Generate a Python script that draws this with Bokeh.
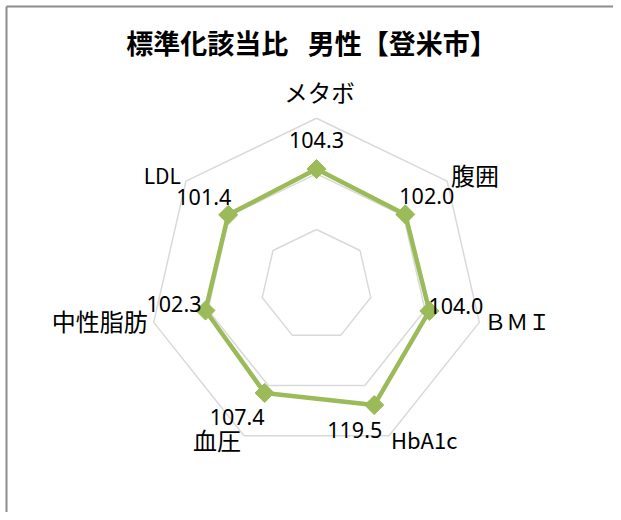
import math
from bokeh.plotting import figure
from bokeh.models import ColumnDataSource, Range1d, Label
from bokeh.core.properties import value
from bokeh.embed import file_html
from bokeh.resources import INLINE

# ---- data ----
title_text = "標準化該当比\u00a0\u2002男性【登米市】"
categories = ["メタボ", "腹囲", "ＢＭＩ", "HbA1c", "血圧", "中性脂肪", "LDL"]
values = [104.3, 102.0, 104.0, 119.5, 107.4, 102.3, 101.4]
value_labels = ["104.3", "102.0", "104.0", "119.5", "107.4", "102.3", "101.4"]
grid_levels = [50, 100, 150]
axis_max = 150

# ---- layout / style ----
W, H = 613, 512
CX, CY = 316.0, 284.7          # centre of the radar in canvas pixels
K = 167.0 / axis_max           # pixels per unit
GREEN = "#9BBB59"
GRID = "#D9D9D9"

n = len(categories)
ang = [2 * math.pi * i / n for i in range(n)]

def polar(r, a):
    return r * math.sin(a), r * math.cos(a)

x0, x1 = -CX / K, (W - CX) / K
y1, y0 = CY / K, -(H - CY) / K

p = figure(width=W, height=H, x_range=Range1d(x0, x1), y_range=Range1d(y0, y1),
           output_backend="svg", toolbar_location=None, min_border=0,
           x_axis_location=None, y_axis_location=None,
           background_fill_color="white", border_fill_color="white")
p.outline_line_color = None
p.xgrid.visible = False
p.ygrid.visible = False

# chart-area border (top and left visible)
bx = x0 + 6.0 / K
by = y1 - 6.0 / K
p.line([bx, bx], [y0, by], line_color="#8C8C8C", line_width=2)
p.line([bx, x1], [by, by], line_color="#8C8C8C", line_width=2)

# grid heptagons
for lv in grid_levels:
    xs, ys = [], []
    for a in ang + [ang[0]]:
        x, y = polar(lv, a)
        xs.append(x); ys.append(y)
    p.line(xs, ys, line_color=GRID, line_width=1.5)

# series
px, py = [], []
for v, a in zip(values, ang):
    x, y = polar(v, a)
    px.append(x); py.append(y)
p.line(px + [px[0]], py + [py[0]], line_color=GREEN, line_width=4.5, line_join="round")
p.scatter(px, py, marker="square", angle=math.pi / 4, size=13.5,
          fill_color=GREEN, line_color=GREEN)

# value labels
val_align = ["center", "left", "left", "right", "right", "right", "right"]
val_dx = [0, -6, -1, 8, 0, -4, 3]
val_dy = [-28.6, -18, -4.5, 25, 23.6, -7, -18]
vsrc = ColumnDataSource(dict(x=px, y=py, t=value_labels, al=val_align, dx=val_dx, dy=val_dy))
p.text(x="x", y="y", text="t", source=vsrc, text_align="al", x_offset="dx", y_offset="dy",
       text_baseline="alphabetic", text_font=value("Noto Sans"), text_font_size="21.5px",
       text_color="#000000")

# category labels
cx, cy = [], []
for a in ang:
    x, y = polar(axis_max, a)
    cx.append(x); cy.append(y)
cat_align = ["center", "left", "left", "left", "right", "right", "right"]
cat_dx = [3, 4, 5, 2, -3, -6, -5]
cat_dy = [-26, -7, -2, 3.5, 4, -2, -6]
cat_fs = ["23.5px", "24px", "22px", "22px", "24px", "24px", "21px"]
csrc = ColumnDataSource(dict(x=cx, y=cy, t=categories, al=cat_align, dx=cat_dx, dy=cat_dy, fs=cat_fs))
p.text(x="x", y="y", text="t", source=csrc, text_align="al", x_offset="dx", y_offset="dy",
       text_baseline="middle", text_font=value("Noto Sans CJK JP"), text_font_size="fs",
       text_color="#000000")

# title
p.add_layout(Label(x=311, y=H - 42, x_units="screen", y_units="screen", text=title_text,
                   text_align="center", text_baseline="middle",
                   text_font="Noto Sans CJK JP", text_font_size="27px",
                   text_font_style="bold", text_color="#000000"))

open("out.html", "w").write(file_html(p, INLINE))
